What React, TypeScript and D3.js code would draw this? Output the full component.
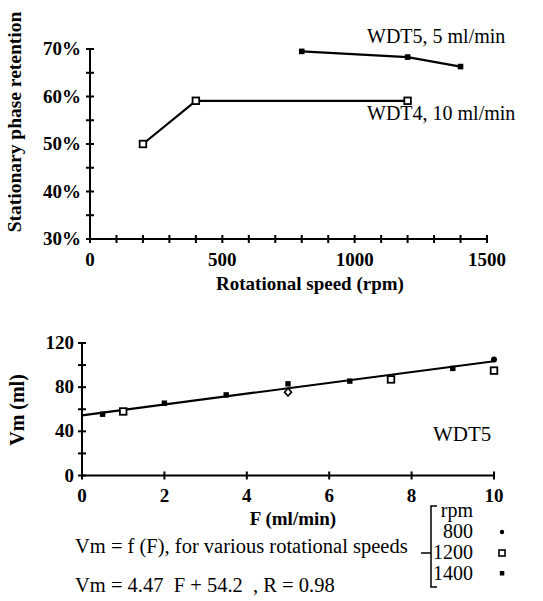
import React from "react";
import * as d3 from "d3";

// ---- Top chart data ----
const topXTicks = [0, 500, 1000, 1500];
const topYTicks = [30, 40, 50, 60, 70];
const wdt5Speed = [800, 1200, 1400];
const wdt5Ret = [69.5, 68.3, 66.3];
const wdt4Speed = [200, 400, 1200];
const wdt4Ret = [50, 59.1, 59.1];

// ---- Bottom chart data ----
const botXTicks = [0, 2, 4, 6, 8, 10];
const botYTicks = [0, 40, 80, 120];
const fitF = [0, 10];
const fitVm = [54.5, 103.5];
const rpm1400F = [0.5, 2, 3.5, 5, 6.5, 9];
const rpm1400Vm = [55.5, 65.5, 73, 83, 85.5, 97];
const rpm1200F = [1, 7.5, 10];
const rpm1200Vm = [58, 87, 95];
const rpm800F = [10];
const rpm800Vm = [105];
const diamondF = [5];
const diamondVm = [75.5];
const legendRpm = ["800", "1200", "1400"];

const FONT = "Liberation Serif, DejaVu Serif, serif";
const NB = "\u00a0";

export default function App() {
  const tx = d3.scaleLinear().domain([0, 1500]).range([90, 487]);
  const ty = d3.scaleLinear().domain([30, 70]).range([239, 49]);
  const bx = d3.scaleLinear().domain([0, 10]).range([82, 494]);
  const by = d3.scaleLinear().domain([0, 120]).range([475.5, 343]);

  const line = d3.line<[number, number]>();
  const wdt5 = wdt5Speed.map((s, i) => [tx(s), ty(wdt5Ret[i])] as [number, number]);
  const wdt4 = wdt4Speed.map((s, i) => [tx(s), ty(wdt4Ret[i])] as [number, number]);
  const fit = fitF.map((f, i) => [bx(f), by(fitVm[i])] as [number, number]);

  const topMinorX = d3.range(0, 1501, 100);
  const topMinorY = d3.range(30, 70.1, 5);
  const botMinorY = d3.range(0, 120.1, 20);
  const tk = 4;

  const legendY = [538, 559, 580];
  const markerX = 502;

  return (
    <svg width={543} height={601} style={{ position: "absolute", left: 0, top: 0, background: "#fff", fontFamily: FONT }}>
      <rect width={543} height={601} fill="#fff" />
      {/* ---------- TOP CHART ---------- */}
      <g stroke="#000" strokeWidth={2} fill="none">
        <line x1={tx(0)} x2={tx(1500)} y1={ty(30)} y2={ty(30)} />
        <line x1={tx(0)} x2={tx(0)} y1={ty(30)} y2={ty(70)} />
        {topMinorX.map((v) => (
          <line key={"tx" + v} x1={tx(v)} x2={tx(v)} y1={ty(30) - tk} y2={ty(30) + tk} />
        ))}
        {topMinorY.map((v) => (
          <line key={"ty" + v} x1={tx(0) - tk} x2={tx(0) + tk} y1={ty(v)} y2={ty(v)} />
        ))}
        <path d={line(wdt5) || ""} strokeWidth={2.2} />
        <path d={line(wdt4) || ""} strokeWidth={2.2} />
      </g>
      {wdt5.map(([x, y], i) => (
        <rect key={"w5" + i} x={x - 2.8} y={y - 2.8} width={5.6} height={5.6} fill="#000" />
      ))}
      {wdt4.map(([x, y], i) => (
        <rect key={"w4" + i} x={x - 3.3} y={y - 3.3} width={6.6} height={6.6} fill="#fff" stroke="#000" strokeWidth={1.8} />
      ))}
      <g fontWeight="bold" fontSize={19} fill="#000" style={{ fontFamily: FONT }}>
        {topYTicks.map((v) => (
          <text key={"tyl" + v} x={81} y={ty(v) + 6} textAnchor="end">{v}%</text>
        ))}
        {topXTicks.map((v) => (
          <text key={"txl" + v} x={tx(v)} y={266} textAnchor="middle">{v}</text>
        ))}
        <text x={310} y={290} textAnchor="middle">Rotational speed (rpm)</text>
        <text transform="translate(21,122) rotate(-90)" textAnchor="middle" fontSize={19.5}>Stationary phase retention</text>
      </g>
      <g fontSize={20} fill="#000" style={{ fontFamily: FONT }}>
        <text x={367} y={43}>WDT5, 5 ml/min</text>
        <text x={367} y={120}>WDT4, 10 ml/min</text>
      </g>

      {/* ---------- BOTTOM CHART ---------- */}
      <g stroke="#000" strokeWidth={2} fill="none">
        <line x1={bx(0)} x2={bx(10)} y1={by(0)} y2={by(0)} />
        <line x1={bx(0)} x2={bx(0)} y1={by(0)} y2={by(120)} />
        {botXTicks.map((v) => (
          <line key={"bx" + v} x1={bx(v)} x2={bx(v)} y1={by(0) - tk} y2={by(0) + tk} />
        ))}
        {botMinorY.map((v) => (
          <line key={"by" + v} x1={bx(0) - tk} x2={bx(0) + tk} y1={by(v)} y2={by(v)} />
        ))}
        <path d={line(fit) || ""} strokeWidth={2.2} />
      </g>
      {rpm1400F.map((f, i) => (
        <rect key={"r14" + i} x={bx(f) - 2.7} y={by(rpm1400Vm[i]) - 2.7} width={5.4} height={5.4} fill="#000" />
      ))}
      {rpm1200F.map((f, i) => (
        <rect key={"r12" + i} x={bx(f) - 3.3} y={by(rpm1200Vm[i]) - 3.3} width={6.6} height={6.6} fill="#fff" stroke="#000" strokeWidth={1.8} />
      ))}
      {rpm800F.map((f, i) => (
        <circle key={"r8" + i} cx={bx(f)} cy={by(rpm800Vm[i])} r={3} fill="#000" />
      ))}
      {diamondF.map((f, i) => (
        <path
          key={"dm" + i}
          d={`M${bx(f)},${by(diamondVm[i]) - 4}L${bx(f) + 3.5},${by(diamondVm[i])}L${bx(f)},${by(diamondVm[i]) + 4}L${bx(f) - 3.5},${by(diamondVm[i])}Z`}
          fill="#fff"
          stroke="#000"
          strokeWidth={1.6}
        />
      ))}
      <g fontWeight="bold" fontSize={19} fill="#000" style={{ fontFamily: FONT }}>
        {botYTicks.map((v) => (
          <text key={"byl" + v} x={74} y={by(v) + 6} textAnchor="end">{v}</text>
        ))}
        {botXTicks.map((v) => (
          <text key={"bxl" + v} x={bx(v)} y={502} textAnchor="middle">{v}</text>
        ))}
        <text x={293} y={525} textAnchor="middle">F (ml/min)</text>
        <text transform="translate(24,410) rotate(-90)" textAnchor="middle" fontSize={20}>Vm (ml)</text>
      </g>
      <g fontSize={20.5} fill="#000" style={{ fontFamily: FONT }}>
        <text x={433} y={441} fontSize={21}>WDT5</text>
        <text x={75} y={553}>Vm = f (F), for various rotational speeds</text>
        <text x={75} y={592}>{`Vm = 4.47 ${NB}F + 54.2 ${NB}, R = 0.98`}</text>
      </g>
      <g fontSize={20} fill="#000" style={{ fontFamily: FONT }}>
        <text x={473} y={517} textAnchor="end">rpm</text>
        {legendRpm.map((r, i) => (
          <text key={"lg" + r} x={473} y={legendY[i]} textAnchor="end">{r}</text>
        ))}
      </g>
      <g stroke="#000" strokeWidth={1.5} fill="none">
        <path d="M437,506 L431,506 L431,587 L437,587" />
        <line x1={421} x2={431} y1={553} y2={553} />
      </g>
      <circle cx={markerX} cy={532} r={2.2} fill="#000" />
      <rect x={markerX - 3} y={550} width={6} height={6} fill="#fff" stroke="#000" strokeWidth={1.6} />
      <rect x={markerX - 2.2} y={571} width={4.5} height={4.5} fill="#000" />
    </svg>
  );
}
